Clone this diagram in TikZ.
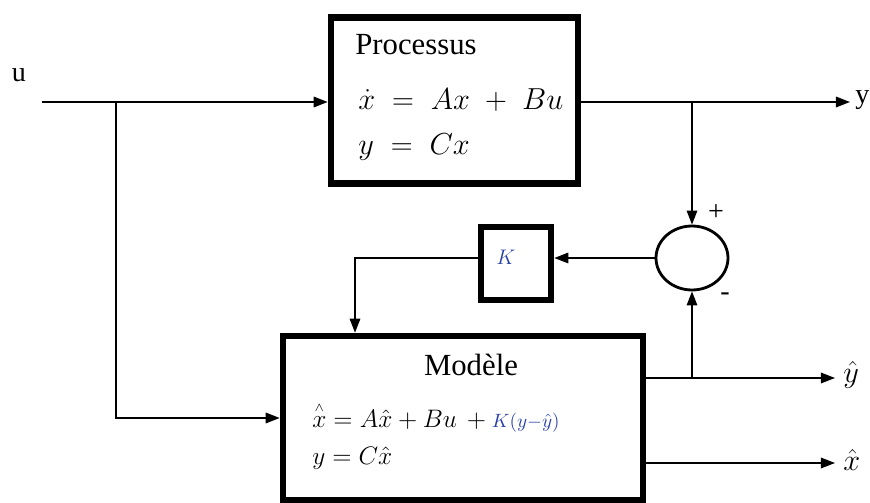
\documentclass[tikz,border=0pt]{standalone}
\usepackage{amsmath}
\usepackage{fontspec}
\setmainfont{Liberation Serif}
\definecolor{kblue}{RGB}{40,64,170}
\usetikzlibrary{arrows.meta,shapes.geometric}

\begin{document}
\begin{tikzpicture}[x=0.02cm, y=-0.02cm,
    blockbox/.style={draw, line width=3.8pt, inner sep=0pt},
    sig/.style={line width=0.9pt},
    sigarrow/.style={sig, -{Triangle[length=8pt,width=6pt]}},
    lbl/.style={font=\fontsize{16}{19}\selectfont, inner sep=0pt},
    title/.style={font=\fontsize{17.5}{20}\selectfont, inner sep=0pt}]
  \useasboundingbox (0,0) rectangle (870,503);
  % blocks
  \node[blockbox, minimum width=4.94cm, minimum height=3.32cm] (proc) at (454.5,100.5) {};
  \node[blockbox, minimum width=7.2cm, minimum height=3.28cm] (model) at (463,418) {};
  \node[blockbox, minimum width=1.4cm, minimum height=1.46cm] (kbox) at (516,263.5) {};
  \node[draw, line width=1.6pt, ellipse, minimum width=1.44cm, minimum height=1.28cm] (sum) at (692,258) {};
  % texts in the blocks
  \node[title, anchor=west] (proctitle) at (355,45) {Processus};
  \node[lbl, anchor=west] (proceq1) at (358,100) {$\dot{x} \;=\; Ax \;+\; Bu$};
  \node[lbl, anchor=west] (proceq2) at (358,147) {$y \;=\; Cx$};
  \node[title] (modeltitle) at (471,365) {Modèle};
  \node[lbl, font=\fontsize{15}{18}\selectfont, anchor=west] (modeleq1) at (312,417) {$\overset{\scriptscriptstyle\wedge}{x} = A\hat{x} + Bu\, + {\color{kblue}\scriptstyle K(y-\hat{y})}$};
  \node[lbl, font=\fontsize{15}{18}\selectfont, anchor=west] (modeleq2) at (312,458) {$y = C\hat{x}$};
  \node[lbl, text=kblue, font=\fontsize{13}{15}\selectfont] (kname) at (506,257) {$K$};
  % signal points
  \coordinate (uin) at (42,102);
  \coordinate (usplit) at (116,102);
  \coordinate (yout) at (850,102);
  \coordinate (kx) at (355,0);
  \coordinate (yhat) at (835,378);
  \coordinate (xhat) at (835,463);
  % connectors
  \draw[sigarrow] (uin) -- (uin -| proc.west);
  \draw[sigarrow] (usplit) |- (model.west);
  \draw[sigarrow] (uin -| proc.east) -- (yout);
  \draw[sigarrow] (sum.north |- yout) -- (sum.north);
  \draw[sigarrow] (sum.west) -- (sum.west -| kbox.east);
  \draw[sigarrow] (sum.west -| kbox.west) -| (model.north -| kx);
  \draw[sigarrow] (model.east |- yhat) -- (yhat);
  \draw[sigarrow] (sum.south |- yhat) -- (sum.south);
  \draw[sigarrow] (model.east |- xhat) -- (xhat);
  % signal labels
  \node[lbl] (ulabel) at (19,75) {u};
  \node[lbl, anchor=west] (ylabel) at (855,100) {y};
  \node[lbl, anchor=west] (yhatlabel) at (843,375) {$\hat{y}$};
  \node[lbl, anchor=west] (xhatlabel) at (843,460) {$\hat{x}$};
  \node[lbl] (plus) at (716,213) {+};
  \node[lbl] (minus) at (725,297) {-};
\end{tikzpicture}
\end{document}
